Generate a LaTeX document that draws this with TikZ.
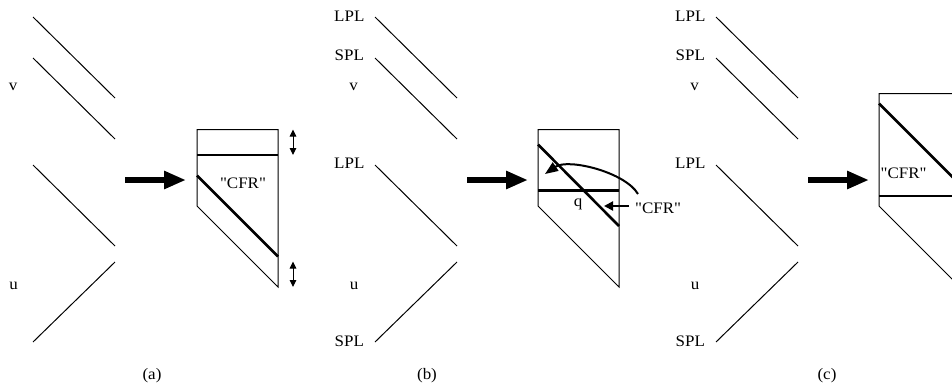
\documentclass[tikz,border=0pt]{standalone}
\usepackage{fontspec}
\setmainfont[FakeStretch=1.06, Ligatures=TeXOff]{Liberation Serif}
\usetikzlibrary{arrows.meta}

\begin{document}
\begin{tikzpicture}[x=1pt,y=-1pt,
  thinline/.style={line width=1pt},
  boldline/.style={line width=2.6pt},
  lbl/.style={font=\fontsize{16}{18}\selectfont, inner sep=0pt, anchor=base},
  bigarrow/.style={line width=6.5pt, -{Triangle[length=22pt,width=17pt]}},
  gaparrow/.style={line width=1pt, {Triangle[length=7pt,width=6.5pt]}-{Triangle[length=7pt,width=6.5pt]}},
  pointer/.style={line width=2pt, -{Triangle[length=13pt,width=10pt]}},
  smallpointer/.style={line width=2pt, -{Triangle[length=9pt,width=9pt]}}
]
\useasboundingbox (0,0) rectangle (952,391);
\clip (0,0) rectangle (952,391);

% ---------- the four characteristic lines, repeated in each panel ----------
\foreach \dx/\p in {0/a, 342/b, 683/c}{
  \begin{scope}[xshift=\dx pt]
    \coordinate (\p-l1s) at (33,17);  \coordinate (\p-l1e) at (115,98);
    \coordinate (\p-l2s) at (33,58);  \coordinate (\p-l2e) at (115,139);
    \coordinate (\p-l3s) at (33,165); \coordinate (\p-l3e) at (115,246);
    \coordinate (\p-l4s) at (33,342); \coordinate (\p-l4e) at (115,262);
    \draw[thinline] (\p-l1s) -- (\p-l1e);
    \draw[thinline] (\p-l2s) -- (\p-l2e);
    \draw[thinline] (\p-l3s) -- (\p-l3e);
    \draw[thinline] (\p-l4s) -- (\p-l4e);
    \coordinate (\p-as) at (125,180); \coordinate (\p-ae) at (186,180);
    \draw[bigarrow] (\p-as) -- (\p-ae);
  \end{scope}
}

% ---------- panel (a) ----------
\node[lbl] (av) at (13,90.7) {v};
\node[lbl] (au) at (13.5,289.3) {u};
\coordinate (a-tl) at (197,129.5);
\coordinate (a-tr) at (278,129.5);
\coordinate (a-bl) at (197,206);
\coordinate (a-br) at (278,287);
\draw[thinline] (a-bl) -- (a-tl) -- (a-tr) -- (a-br) -- cycle;
\draw[boldline] (197,155) -- (278,155);
\draw[boldline] (197,175.5) -- (278,256.5);
\node[lbl] (acfr) at (243,188) {"CFR"};
\draw[gaparrow] (293,129.5) -- (293,155);
\draw[gaparrow] (293,261.5) -- (293,287);
\node[lbl] (capa) at (152,379) {(a)};

% ---------- panel (b) ----------
\node[lbl] (bl1) at (349.3,21.7) {LPL};
\node[lbl] (bs1) at (349.3,60.7) {SPL};
\node[lbl] (bv) at (353.5,90.7) {v};
\node[lbl] (bl2) at (349.3,168.3) {LPL};
\node[lbl] (bu) at (354,289.3) {u};
\node[lbl] (bs2) at (349.3,346.7) {SPL};
\coordinate (b-tl) at (538,129.5);
\coordinate (b-tr) at (619,129.5);
\coordinate (b-bl) at (538,206);
\coordinate (b-br) at (619,287);
\draw[thinline] (b-bl) -- (b-tl) -- (b-tr) -- (b-br) -- cycle;
\draw[boldline] (538,190.5) -- (619,190.5);
\draw[boldline] (538,144.5) -- (619,226);
\node[lbl] (bq) at (578,206) {q};
\node[lbl, anchor=base west] (bcfr) at (635,213) {"CFR"};
\coordinate (b-cs) at (638,194);
\coordinate (b-ce) at (545,174);
\draw[pointer] (b-cs) .. controls (625,172) and (568,158) .. (b-ce);
\coordinate (b-ps) at (629,206);
\coordinate (b-pe) at (604,206);
\draw[smallpointer] (b-ps) -- (b-pe);
\node[lbl] (capb) at (427,379) {(b)};

% ---------- panel (c) ----------
\node[lbl] (cl1) at (690.3,21.7) {LPL};
\node[lbl] (cs1) at (690.3,60.7) {SPL};
\node[lbl] (cv) at (694.5,90.7) {v};
\node[lbl] (cl2) at (690.3,168.3) {LPL};
\node[lbl] (cu) at (695,289.3) {u};
\node[lbl] (cs2) at (690.3,346.7) {SPL};
\coordinate (c-tl) at (879,93.5);
\coordinate (c-tr) at (960,93.5);
\coordinate (c-bl) at (879,206);
\coordinate (c-br) at (960,287);
\draw[thinline] (c-bl) -- (c-tl) -- (c-tr) -- (c-br) -- cycle;
\draw[boldline] (879,196) -- (960,196);
\draw[boldline] (879,103.5) -- (960,184.5);
\node[lbl, anchor=base west] (ccfr) at (880.5,178) {"CFR"};
\node[lbl] (capc) at (827,379) {(c)};
\end{tikzpicture}
\end{document}
